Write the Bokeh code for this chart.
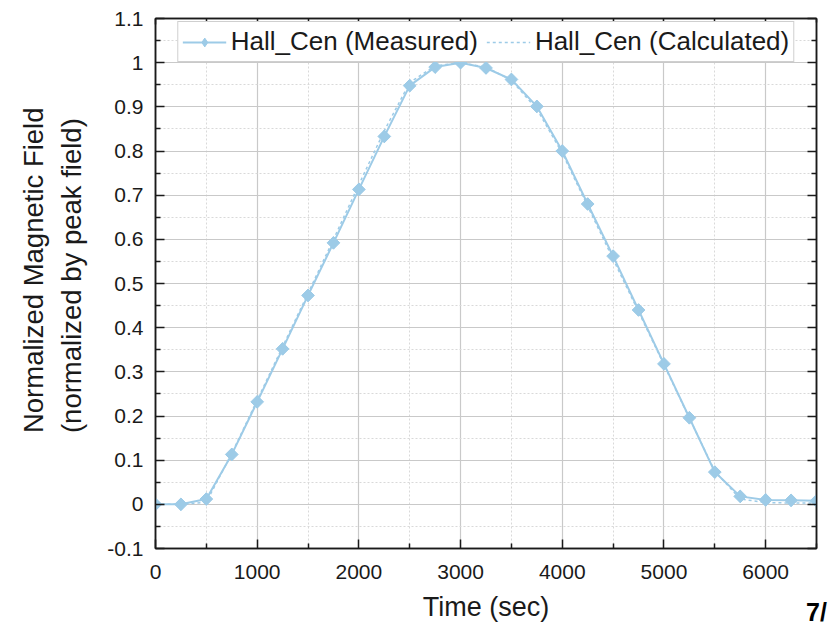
from bokeh.plotting import figure
from bokeh.models import (Range1d, LinearAxis, FixedTicker, NumeralTickFormatter,
                          Legend, LegendItem, CustomJSTickFormatter, Title)
from bokeh.embed import file_html
from bokeh.resources import INLINE
import math

# ---- data ----
time_measured = [0, 250, 500, 750, 1000, 1250, 1500, 1750, 2000, 2250, 2500, 2750,
                 3000, 3250, 3500, 3750, 4000, 4250, 4500, 4750, 5000, 5250, 5500,
                 5750, 6000, 6250, 6500]
field_measured = [0.0, 0.0, 0.012, 0.113, 0.232, 0.352, 0.473, 0.592, 0.713, 0.833,
                  0.948, 0.990, 1.000, 0.988, 0.962, 0.901, 0.800, 0.680, 0.562,
                  0.440, 0.318, 0.196, 0.073, 0.018, 0.010, 0.009, 0.008]
time_calc = [0, 250, 500, 750, 1000, 1250, 1500, 1750, 2000, 2250, 2500, 2750,
             3000, 3250, 3500, 3750, 4000, 4250, 4500, 4750, 5000, 5250, 5500,
             5750, 6000, 6250, 6500]
field_calc = [0.0, 0.0, 0.005, 0.115, 0.236, 0.357, 0.478, 0.600, 0.724, 0.846,
              0.955, 0.993, 1.000, 0.990, 0.960, 0.895, 0.795, 0.675, 0.555,
              0.436, 0.316, 0.195, 0.075, 0.012, 0.004, 0.003, 0.003]
x_ticks = [0, 1000, 2000, 3000, 4000, 5000, 6000]
x_minor = [500, 1500, 2500, 3500, 4500, 5500, 6500]
y_ticks = [-0.1, 0.0, 0.1, 0.2, 0.3, 0.4, 0.5, 0.6, 0.7, 0.8, 0.9, 1.0, 1.1]
y_minor = [-0.05, 0.05, 0.15, 0.25, 0.35, 0.45, 0.55, 0.65, 0.75, 0.85, 0.95, 1.05]
label_measured = "Hall_Cen (Measured)"
label_calc = "Hall_Cen (Calculated)"
x_title = "Time (sec)"
y_title = "Normalized Magnetic Field\n(normalized by peak field)"
page_tick = [6500]
page_text = "7/"

FONT = "Liberation Sans"
BLUE = "#9dcbe7"
INK = "#1a1a1a"

p = figure(frame_width=661, frame_height=530, output_backend="svg",
           toolbar_location=None, x_range=Range1d(0, 6500), y_range=Range1d(-0.1, 1.1),
           min_border_left=155, min_border_top=18, min_border_right=12,
           min_border_bottom=78, background_fill_color="white",
           border_fill_color="white", outline_line_color=INK,
           outline_line_width=1.5)

xt = FixedTicker(ticks=x_ticks, minor_ticks=x_minor)
yt = FixedTicker(ticks=y_ticks, minor_ticks=y_minor)

p.xaxis.ticker = xt
p.yaxis.ticker = yt
p.yaxis.formatter = NumeralTickFormatter(format="0.[0]")

for ax in (p.xaxis[0], p.yaxis[0]):
    ax.axis_line_color = INK
    ax.axis_line_width = 1.5
    ax.major_tick_in = 9
    ax.major_tick_out = 0
    ax.minor_tick_in = 5
    ax.minor_tick_out = 0
    ax.major_tick_line_color = INK
    ax.minor_tick_line_color = INK
    ax.major_tick_line_width = 1.5
    ax.minor_tick_line_width = 1.5
    ax.major_label_text_font = FONT
    ax.major_label_text_font_size = "21px"
    ax.major_label_text_color = INK
    ax.axis_label_text_font = FONT
    ax.axis_label_text_font_style = "normal"
    ax.axis_label_text_color = INK

p.xaxis.axis_label = x_title
p.xaxis.axis_label_text_font_size = "27px"
p.xaxis.major_label_standoff = 16
p.xaxis.axis_label_standoff = 10

p.yaxis.major_label_standoff = 12

# y title as a left-side title so that it can sit a little above the frame centre
ytitle = Title(text=y_title, align="right", offset=89, vertical_align="top",
               standoff=30, text_font=FONT, text_font_size="27.5px",
               text_line_height=1.25, text_font_style="normal", text_color=INK)
p.add_layout(ytitle, "left")

blank = CustomJSTickFormatter(code="return ''")
# mirrored axes (right and top) without labels
right = LinearAxis(ticker=yt, formatter=blank, axis_line_color=INK,
                   axis_line_width=1.5, major_tick_in=9, major_tick_out=0,
                   minor_tick_in=5, minor_tick_out=0, major_tick_line_width=1.5,
                   minor_tick_line_width=1.5, major_tick_line_color=INK,
                   minor_tick_line_color=INK, major_label_standoff=0)
top = LinearAxis(ticker=xt, formatter=blank, axis_line_color=INK,
                 axis_line_width=1.5, major_tick_in=6, major_tick_out=0,
                 minor_tick_in=4, minor_tick_out=0, major_tick_line_width=1.5,
                 minor_tick_line_width=1.5, major_tick_line_color=INK,
                 minor_tick_line_color=INK, major_label_standoff=0)
p.add_layout(right, "right")
p.add_layout(top, "above")

# slide page number (bottom-right corner of the slide)
page_axis = LinearAxis(ticker=FixedTicker(ticks=page_tick, minor_ticks=[]),
                       major_label_overrides={page_tick[0]: page_text},
                       axis_line_alpha=0, major_tick_in=0, major_tick_out=0,
                       minor_tick_in=0, minor_tick_out=0,
                       major_label_standoff=-27, major_label_text_font=FONT,
                       major_label_text_font_size="25px",
                       major_label_text_font_style="bold",
                       major_label_text_color="black")
p.add_layout(page_axis, "below")

# grids
p.xgrid.ticker = xt
p.ygrid.ticker = yt
for g in (p.xgrid[0], p.ygrid[0]):
    g.grid_line_color = "#c9c9c9"
    g.grid_line_width = 1.2
    g.minor_grid_line_color = "#d9d9d9"
    g.minor_grid_line_dash = "2 2"
    g.minor_grid_line_width = 1

# series
l_meas = p.line(time_measured, field_measured, line_color=BLUE, line_width=2)
l_calc = p.line(time_calc, field_calc, line_color=BLUE, line_width=1.5, line_dash="3 3")
s_key = p.scatter(time_measured, field_measured, marker="diamond", size=12,
                  fill_color=BLUE, line_color=BLUE)
s_meas = p.scatter(time_measured, field_measured, marker="square", angle=math.pi / 4,
                   size=9, fill_color=BLUE, line_color=BLUE)

legend = Legend(items=[LegendItem(label=label_measured, renderers=[l_meas, s_key]),
                       LegendItem(label=label_calc, renderers=[l_calc])],
                orientation="horizontal", location="top_center",
                label_text_font=FONT, label_text_font_size="26px",
                label_text_color=INK, glyph_width=44, glyph_height=22,
                label_standoff=5, spacing=8, padding=4, margin=3,
                border_line_color="#a0a0a0", border_line_width=1,
                background_fill_color="white", background_fill_alpha=1)
p.add_layout(legend, "center")

open("out.html", "w").write(file_html(p, INLINE))
